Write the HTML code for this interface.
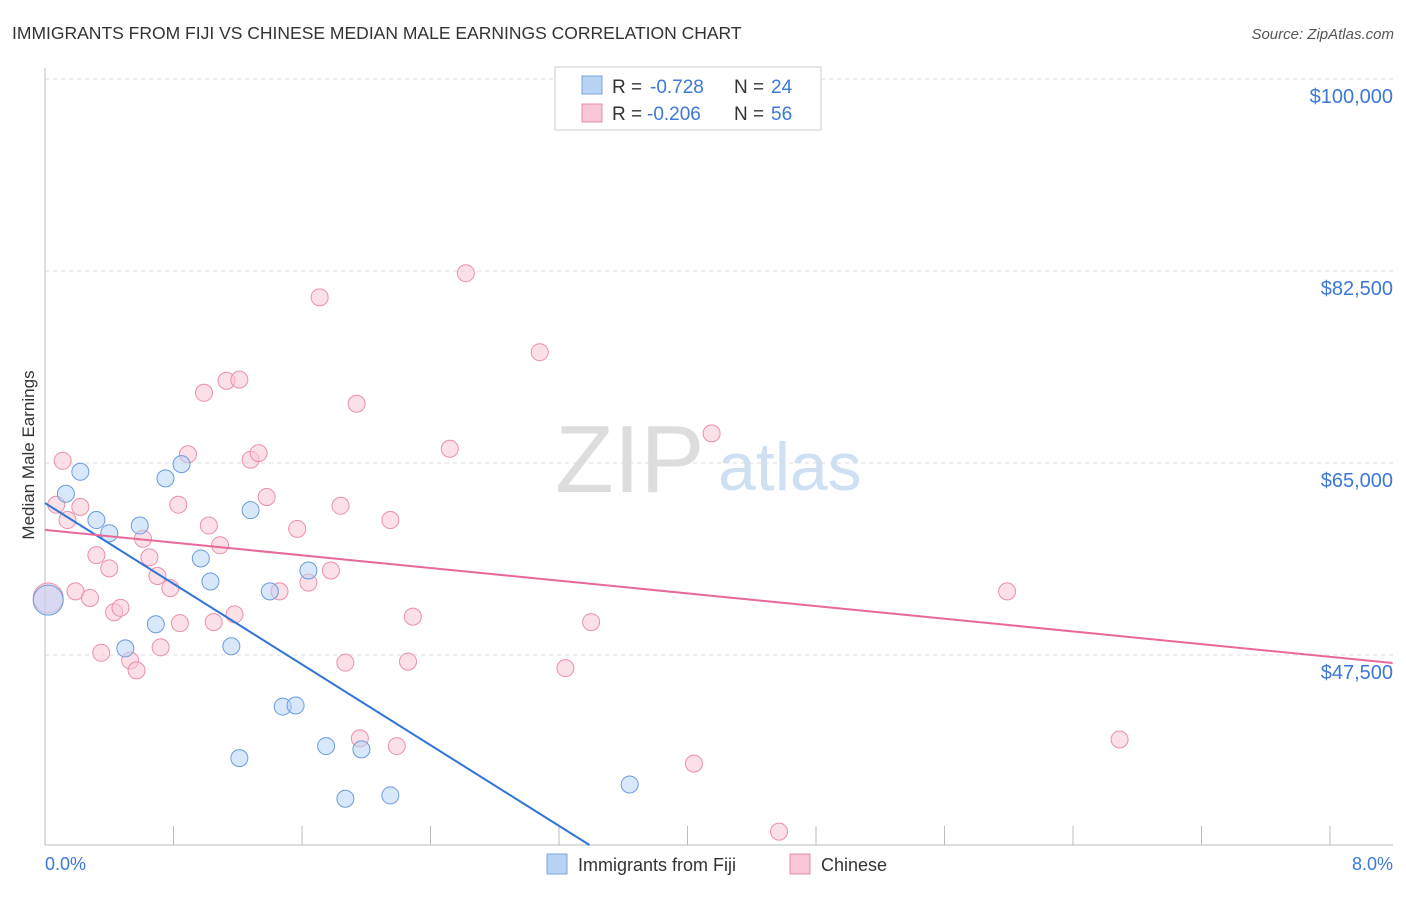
<!DOCTYPE html>
<html><head><meta charset="utf-8"><style>
body{margin:0;background:#fff;font-family:"Liberation Sans",sans-serif;}
svg text{font-family:"Liberation Sans",sans-serif;}
</style></head><body>
<svg id="chart" width="1406" height="892">
<text x="12" y="39" font-size="17.5" fill="#333">IMMIGRANTS FROM FIJI VS CHINESE MEDIAN MALE EARNINGS CORRELATION CHART</text>
<text x="1394" y="39" font-size="15" fill="#555" text-anchor="end" font-style="italic">Source: ZipAtlas.com</text>
<text x="555" y="492" font-size="96" fill="#ddd" font-family="Liberation Serif">ZIP</text>
<text x="718" y="490" font-size="68" fill="#cfe0f3">atlas</text>
<g id="grid"></g><g id="marks"></g>
<text transform="translate(34,455) rotate(-90)" font-size="17" fill="#333" text-anchor="middle">Median Male Earnings</text>
<text x="45" y="870" font-size="18" fill="#3b78d8">0.0%</text>
<text x="1393" y="870" font-size="18" fill="#3b78d8" text-anchor="end">8.0%</text>
<g>
<rect x="555" y="67" width="266" height="63" fill="#fff" stroke="#ccc"/>
<rect x="582" y="76" width="20" height="18" fill="#b9d3f5" stroke="#7aa6e0"/>
<rect x="582" y="104" width="20" height="18" fill="#f9c6d5" stroke="#eb8fab"/>
<text x="612" y="93" font-size="19" fill="#333">R =</text>
<text x="650" y="93" font-size="19" fill="#3b78d8">-0.728</text>
<text x="734" y="93" font-size="19" fill="#333">N =</text>
<text x="771" y="93" font-size="19" fill="#3b78d8">24</text>
<text x="612" y="120" font-size="19" fill="#333">R =</text>
<text x="647" y="120" font-size="19" fill="#3b78d8">-0.206</text>
<text x="734" y="120" font-size="19" fill="#333">N =</text>
<text x="771" y="120" font-size="19" fill="#3b78d8">56</text>
</g>
<g>
<rect x="547" y="854" width="20" height="20" fill="#b9d3f5" stroke="#7aa6e0"/>
<text x="578" y="871" font-size="18" fill="#333">Immigrants from Fiji</text>
<rect x="790" y="854" width="20" height="20" fill="#f9c6d5" stroke="#eb8fab"/>
<text x="821" y="871" font-size="18" fill="#333">Chinese</text>
</g>
</svg>
<script>
const yTicks=[100000,82500,65000,47500];
const yTickLabels=["$100,000","$82,500","$65,000","$47,500"];
const xTicks=[0,0.8,1.6,2.4,3.2,4.0,4.8,5.6,6.4,7.2,8.0];
const fijiX=[0.02,0.13,0.22,0.32,0.40,0.59,0.75,0.85,0.97,1.03,0.69,0.50,1.16,1.28,1.40,1.48,1.56,1.64,1.75,1.97,1.21,1.87,2.15,3.64];
const fijiY=[52.5,62.2,64.2,59.8,58.6,59.3,63.6,64.9,56.3,54.2,50.3,48.1,48.3,60.7,53.3,42.8,42.9,55.2,39.2,38.9,38.1,34.4,34.7,35.7];
const chinX=[0.02,0.11,0.07,0.14,0.22,0.19,0.28,0.32,0.40,0.35,0.43,0.47,0.53,0.57,0.61,0.65,0.70,0.78,0.72,0.83,0.84,0.89,0.99,1.02,1.05,1.09,1.13,1.21,1.18,1.28,1.33,1.38,1.46,1.57,1.64,1.71,1.78,1.84,1.87,1.94,1.96,2.15,2.19,2.26,2.29,2.52,2.62,3.08,3.24,3.40,4.04,4.15,4.57,5.99,6.69];
const chinY=[52.7,65.2,61.2,59.8,61.0,53.3,52.7,56.6,55.4,47.7,51.4,51.8,47.0,46.1,58.1,56.4,54.7,53.6,48.2,61.2,50.4,65.8,71.4,59.3,50.5,57.5,72.5,72.6,51.2,65.3,65.9,61.9,53.3,59.0,54.1,80.1,55.2,61.1,46.8,70.4,39.9,59.8,39.2,46.9,51.0,66.3,82.3,75.1,46.3,50.5,37.6,67.7,31.4,53.3,39.8];
const fijiTrend=[[0,61.35],[3.39,30.18]];
const chinTrend=[[0,58.9],[8.39,46.77]];
const X=v=>45+v/8*1285;
const Y=v=>79+(100-v)/17.5*192;
const NS="http://www.w3.org/2000/svg";
const grid=document.getElementById('grid'),marks=document.getElementById('marks');
function mk(tag,attrs,parent){const e=document.createElementNS(NS,tag);for(const k in attrs)e.setAttribute(k,attrs[k]);parent.appendChild(e);return e;}
yTicks.forEach((t,i)=>{const y=Y(t/1000);
const l=mk('line',{x1:45,x2:1393,y1:y,y2:y,stroke:'#ddd','stroke-dasharray':'4,4'},grid);


const tx=mk('text',{x:1393,y:y+24,'font-size':20,fill:'#3b78d8','text-anchor':'end'},grid);tx.textContent=yTickLabels[i];

});
const ax=mk('line',{x1:45,x2:1393,y1:845,y2:845,stroke:'#bbb'},grid);


const ay=mk('line',{x1:45,x2:45,y1:68,y2:845,stroke:'#bbb'},grid);


xTicks.forEach(t=>{const tk=mk('line',{x1:X(t),x2:X(t),y1:826,y2:845,stroke:'#bbb'},grid);

});
function pts(xs,ys,fill,stroke,name){xs.forEach((x,i)=>{const r=i===0?15:8.5;
const c=mk('circle',{cx:X(x),cy:Y(ys[i]),r:r,fill:fill,'fill-opacity':0.55,stroke:stroke,'stroke-width':1},marks);

});}
pts(chinX,chinY,'#f9c6d5','#eb8fab','chinese-point');
pts(fijiX,fijiY,'#b9d3f5','#6c9bdc','fiji-point');
const t1=mk('line',{x1:X(fijiTrend[0][0]),y1:Y(fijiTrend[0][1]),x2:X(fijiTrend[1][0]),y2:Y(fijiTrend[1][1]),stroke:'#2f74d6','stroke-width':2},marks);


const t2=mk('line',{x1:X(chinTrend[0][0]),y1:Y(chinTrend[0][1]),x2:X(chinTrend[1][0]),y2:Y(chinTrend[1][1]),stroke:'#e8689a','stroke-width':2},marks);


</script>
</body></html>
